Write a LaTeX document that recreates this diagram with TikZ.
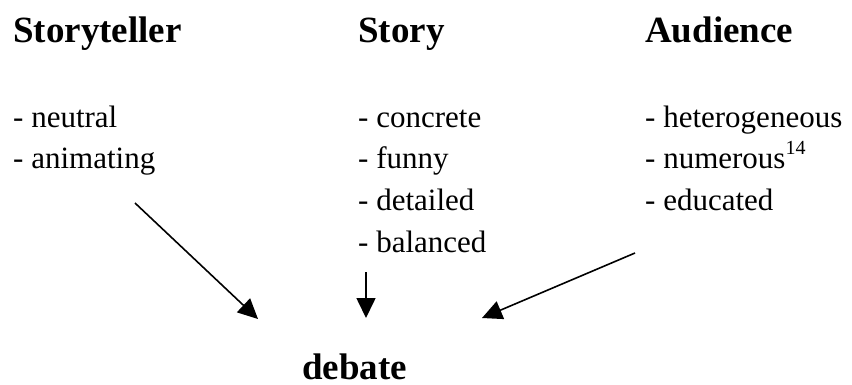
\documentclass[tikz,border=0pt]{standalone}
\usepackage{fontspec}
\setmainfont{Liberation Serif}
\usetikzlibrary{arrows.meta}
\begin{document}
\begin{tikzpicture}[x=1pt,y=-1pt,
  heading/.style={anchor=base west,inner sep=0pt,font=\fontsize{37}{44}\selectfont\bfseries},
  item/.style={anchor=base west,inner sep=0pt,font=\fontsize{31}{37}\selectfont},
  arr/.style={line width=1.6pt,-{Triangle[length=20pt,width=19pt]}}]
\useasboundingbox (0,0) rectangle (852,384);

% column headings
\node[heading] (teller)   at (13,42)  {Storyteller};
\node[heading] (story)    at (358,42) {Story};
\node[heading] (audience) at (645,42) {Audience};

% storyteller qualities
\node[item] (t1) at (13,127) {- neutral};
\node[item] (t2) at (13,168) {- animating};

% story qualities
\node[item] (s1) at (358,127) {- concrete};
\node[item] (s2) at (358,168) {- funny};
\node[item] (s3) at (358,210) {- detailed};
\node[item] (s4) at (358,252) {- balanced};

% audience qualities
\node[item] (a1) at (645,127) {- heterogeneous};
\node[item] (a2) at (645,168) {- numerous\raisebox{0.42em}{\fontsize{20}{20}\selectfont 14}};
\node[item] (a3) at (645,210) {- educated};

% outcome
\node[heading] (debate) at (302,379) {debate};

% arrow end points
\coordinate (tFrom) at (135,203);
\coordinate (tTo)   at (258,319);
\coordinate (sFrom) at (366,272);
\coordinate (sTo)   at (366,318);
\coordinate (aFrom) at (635,253);
\coordinate (aTo)   at (482,318);

\draw[arr] (tFrom) -- (tTo);
\draw[arr] (sFrom) -- (sTo);
\draw[arr] (aFrom) -- (aTo);
\end{tikzpicture}
\end{document}
